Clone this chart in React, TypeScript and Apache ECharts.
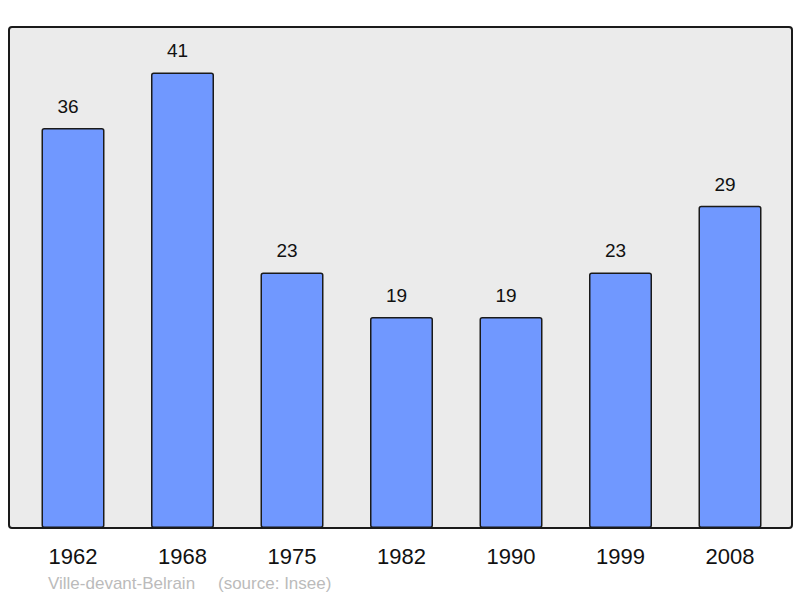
import React, { useEffect, useRef } from "react";
import * as echarts from "echarts";

const categories = ["1962", "1968", "1975", "1982", "1990", "1999", "2008"];
const population = [36, 41, 23, 19, 19, 23, 29];
const footerName = "Ville-devant-Belrain";
const footerSource = "(source: Insee)";

const FONT = "'Liberation Sans', Arial, sans-serif";

export default function App() {
  const ref = useRef<HTMLDivElement>(null);
  useEffect(() => {
    if (!ref.current) return;
    const chart = echarts.init(ref.current, undefined, { renderer: "svg" });
    chart.setOption({
      animation: false,
      backgroundColor: "#ffffff",
      grid: { left: 18.25, width: 766.5, top: 28, bottom: 70, containLabel: false },
      xAxis: {
        type: "category",
        data: categories,
        axisLine: { show: false },
        axisTick: { show: false },
        axisLabel: {
          color: "#111111",
          fontSize: 22,
          fontFamily: FONT,
          margin: 17,
        },
      },
      yAxis: {
        type: "value",
        min: 0,
        max: 45,
        show: false,
        splitLine: { show: false },
      },
      graphic: [
        {
          type: "rect",
          z: -10,
          silent: true,
          shape: { x: 9, y: 27, width: 783, height: 501, r: 3 },
          style: { fill: "#ebebeb", stroke: "#1a1a1a", lineWidth: 2 },
        },
        {
          type: "text",
          left: 48,
          top: 575,
          style: { text: footerName, fill: "#bbbbbb", font: `17px ${FONT}` },
        },
        {
          type: "text",
          left: 218,
          top: 575,
          style: { text: footerSource, fill: "#bbbbbb", font: `17px ${FONT}` },
        },
      ],
      series: [
        {
          type: "bar",
          data: population,
          barWidth: 63,
          z: 2,
          itemStyle: {
            color: "#7098ff",
            borderColor: "#1a1a1a",
            borderWidth: 1.5,
            borderRadius: 2,
          },
          label: {
            show: true,
            position: "top",
            distance: 12,
            offset: [-5, 0],
            color: "#111111",
            fontSize: 19,
            fontFamily: FONT,
          },
        },
      ],
    });
    return () => chart.dispose();
  }, []);
  return (
    <div
      ref={ref}
      style={{ position: "fixed", left: 0, top: 0, width: 800, height: 598 }}
    />
  );
}
